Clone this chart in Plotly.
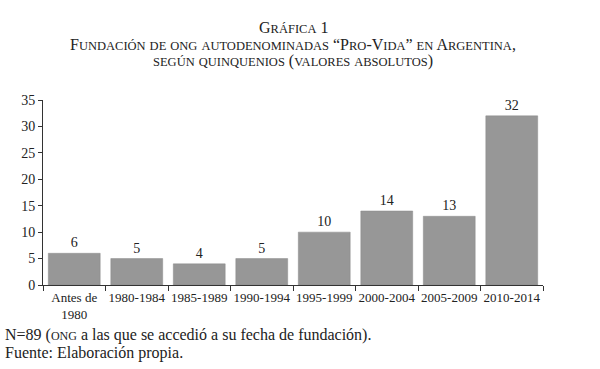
import plotly.graph_objects as go

categories = ["Antes de<br>1980", "1980-1984", "1985-1989", "1990-1994",
              "1995-1999", "2000-2004", "2005-2009", "2010-2014"]
values = [6, 5, 4, 5, 10, 14, 13, 32]
y_ticks = [0, 5, 10, 15, 20, 25, 30, 35]

FONT = "Liberation Serif, DejaVu Serif, serif"

def sc(text, small=12.5):
    out = []
    for ch in text:
        if ch.islower():
            out.append(f'<span style="font-size:{small}px">{ch.upper()}</span>')
        else:
            out.append(ch)
    return "".join(out)

fig = go.Figure(go.Bar(
    x=categories, y=values,
    marker=dict(color="#979797", line=dict(color="#8a8a8a", width=0.5)),
    text=[str(v) for v in values], textposition="outside",
    textfont=dict(family=FONT, size=14, color="#222"),
    cliponaxis=False,
))

fig.update_layout(
    width=600, height=369,
    margin=dict(l=43, r=57, t=100, b=84),
    paper_bgcolor="white", plot_bgcolor="white",
    bargap=0.17,
    showlegend=False,
    font=dict(family=FONT, size=13, color="#222"),
)
fig.update_xaxes(
    type="category", showline=True, linecolor="#333", linewidth=1,
    ticks="outside", tickson="boundaries", ticklen=5, tickcolor="#333",
    tickfont=dict(family=FONT, size=13, color="#222"), tickangle=0,
    showgrid=False, automargin=False,
)
fig.update_yaxes(
    range=[0, 35], tickvals=y_ticks, showline=True, linecolor="#333", linewidth=1,
    ticks="outside", ticklen=4, tickcolor="#333", showgrid=False, zeroline=False,
    tickfont=dict(family=FONT, size=14, color="#222"), automargin=False,
)

ann = [
    (sc("Gráfica 1"), 27),
    (sc("Fundación de ong autodenominadas “Pro-Vida” en Argentina,"), 44),
    (sc("según quinquenios (valores absolutos)"), 61),
]
for t, y in ann:
    fig.add_annotation(text=t, x=0.5, xref="paper", y=1, yref="paper",
                       yanchor="middle", xanchor="center", showarrow=False,
                       font=dict(family=FONT, size=16, color="#222"),
                       yshift=100 - y)

fig.add_annotation(text="N=89 (" + '<span style="font-size:12px">ONG</span>' +
                   " a las que se accedió a su fecha de fundación).",
                   x=0, xref="paper", xanchor="left", xshift=-40,
                   y=0, yref="paper", yanchor="middle", yshift=-(335 - 285),
                   showarrow=False, font=dict(family=FONT, size=16, color="#222"))
fig.add_annotation(text="Fuente: Elaboración propia.",
                   x=0, xref="paper", xanchor="left", xshift=-40,
                   y=0, yref="paper", yanchor="middle", yshift=-(353 - 285),
                   showarrow=False, font=dict(family=FONT, size=16, color="#222"))

fig.write_html("out.html", config={"displayModeBar": False},
               post_script="document.body.style.margin='0';document.body.style.overflow='hidden';")
